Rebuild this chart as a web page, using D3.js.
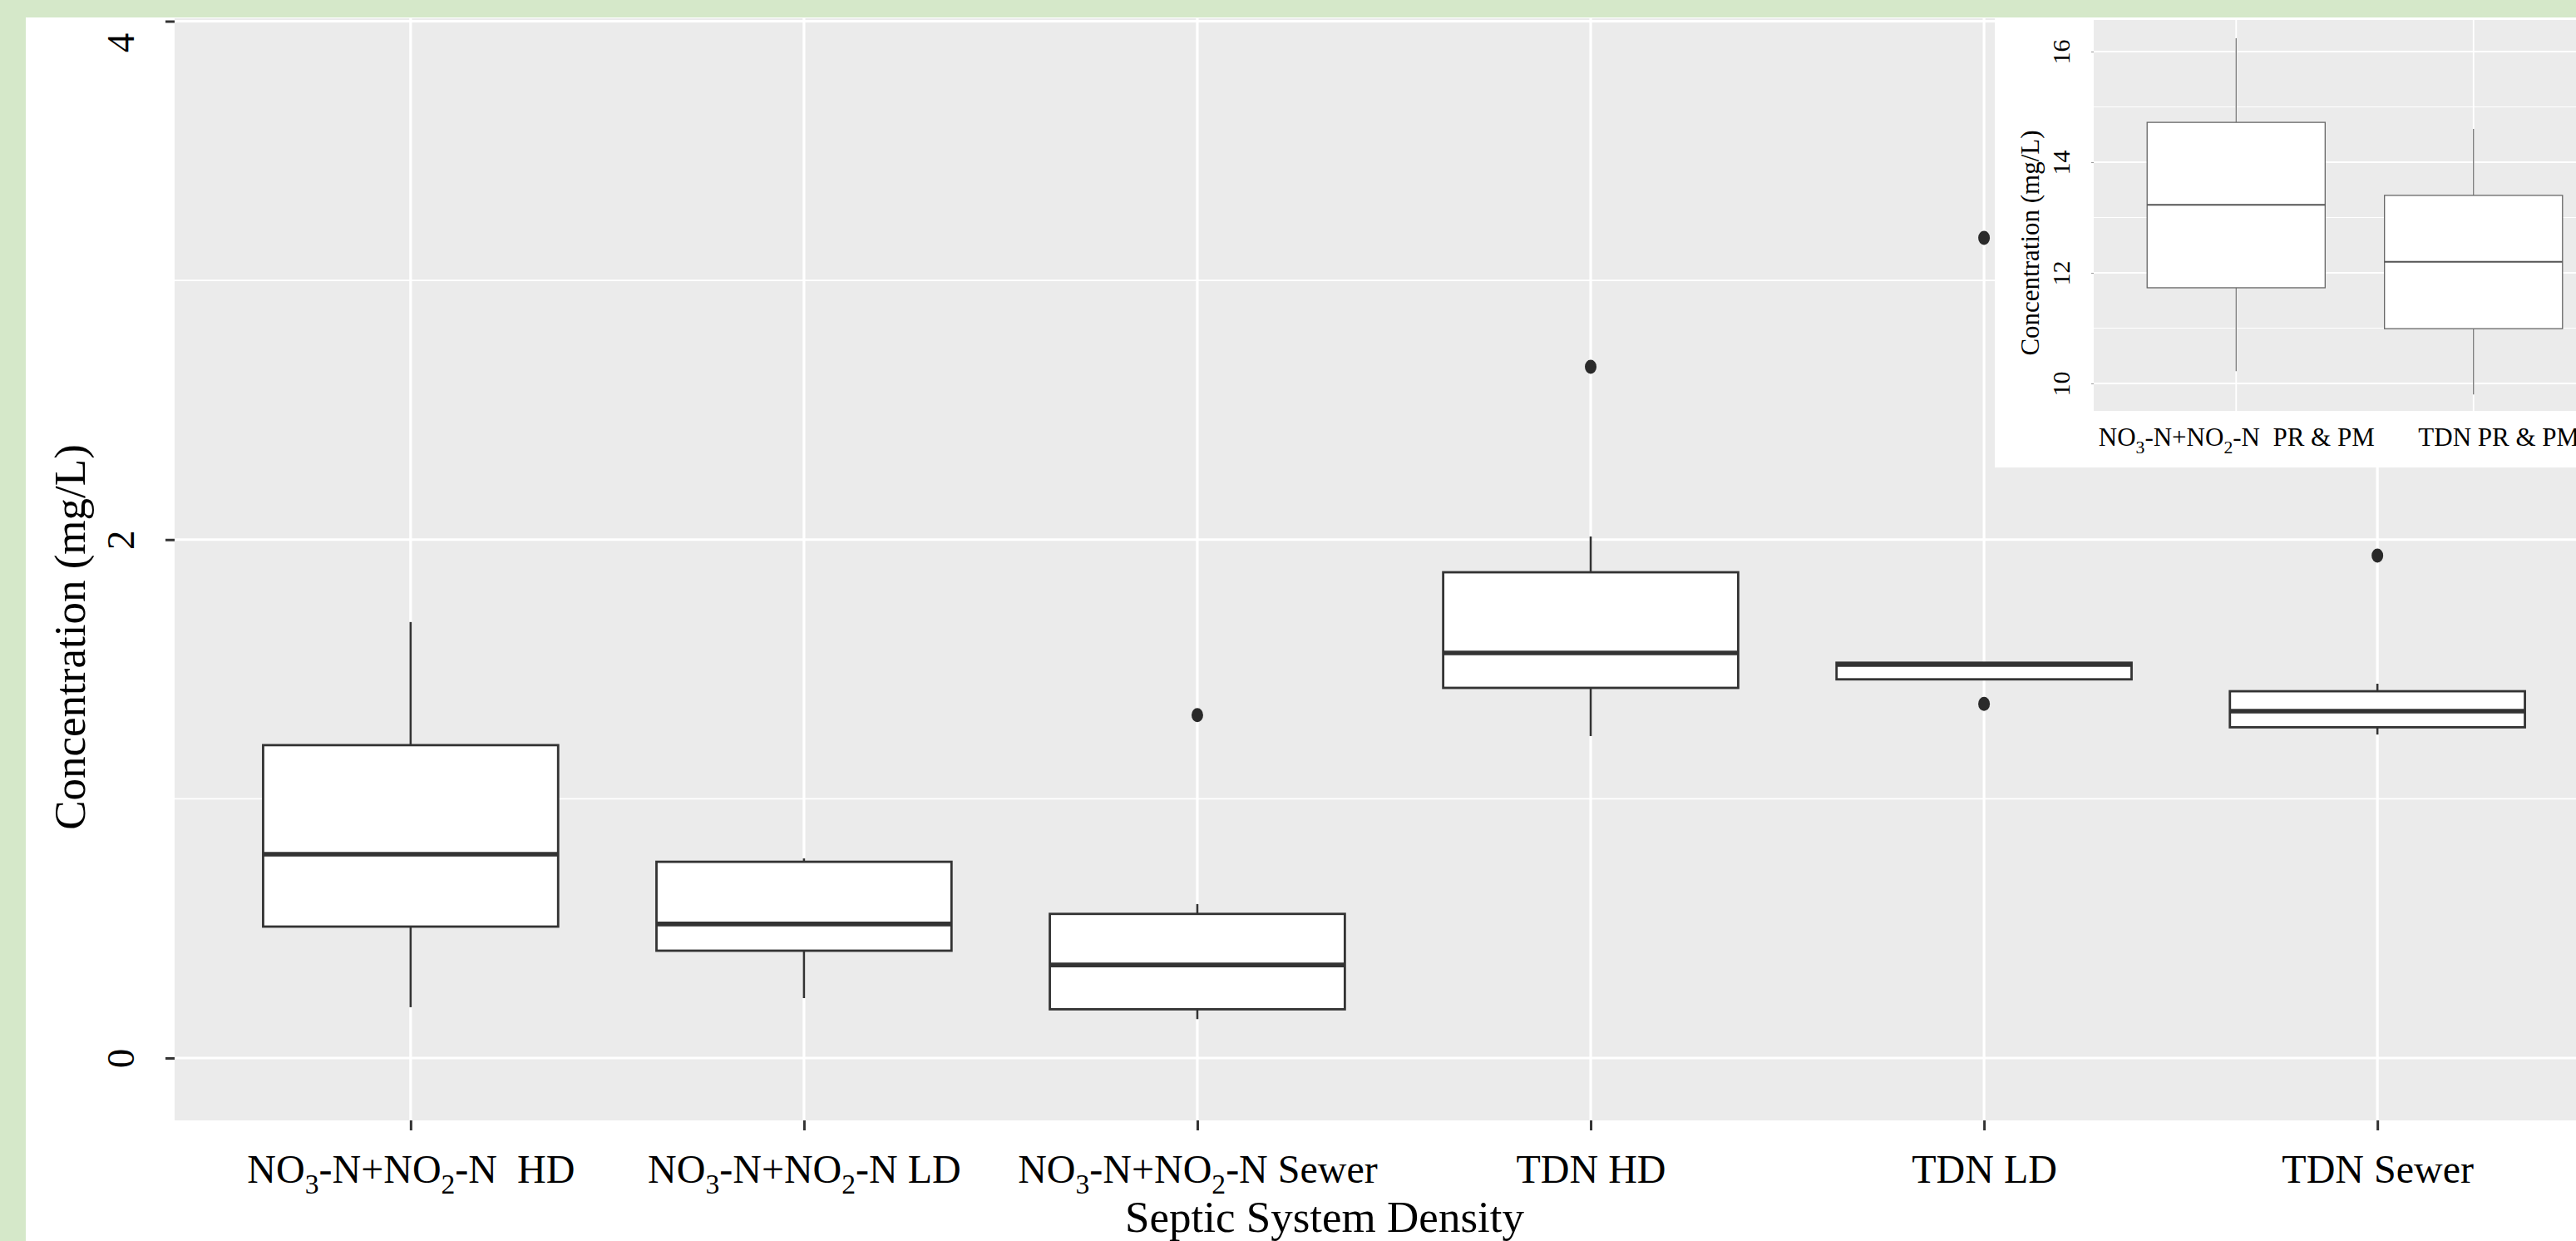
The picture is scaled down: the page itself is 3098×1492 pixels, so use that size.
<!DOCTYPE html>
<html><head><meta charset="utf-8">
<script src="https://cdn.jsdelivr.net/npm/d3@7"></script>
<style>
html,body{margin:0;padding:0;background:#d5e8c9;overflow:hidden;}
svg{display:block;}
text{font-family:"Liberation Serif","Times New Roman",Times,serif;fill:#000;white-space:pre;}
</style></head><body>
<svg id="c" width="3098" height="1492"></svg>
<script>
// ---------- main chart data ----------
const categories = ["NO3-N+NO2-N  HD","NO3-N+NO2-N LD","NO3-N+NO2-N Sewer","TDN HD","TDN LD","TDN Sewer"];
const whiskerLow  = [0.196, 0.231, 0.150, 1.242, 1.461, 1.248];
const q1          = [0.507, 0.414, 0.188, 1.428, 1.461, 1.276];
const median      = [0.786, 0.517, 0.359, 1.563, 1.518, 1.338];
const q3          = [1.207, 0.757, 0.556, 1.874, 1.525, 1.415];
const whiskerHigh = [1.682, 0.770, 0.594, 2.012, 1.525, 1.444];
const outliers    = [[], [], [1.323], [2.667], [3.164, 1.366], [1.938]];
const yTicks = [0, 2, 4];
const yMinorTicks = [1, 3];
const yTitle = "Concentration (mg/L)";
const xTitle = "Septic System Density";

// ---------- inset data ----------
const insetCategories  = ["NO3-N+NO2-N  PR & PM", "TDN PR & PM"];
const insetWhiskerLow  = [10.22, 9.80];
const insetQ1          = [11.73, 10.99];
const insetMedian      = [13.23, 12.20];
const insetQ3          = [14.72, 13.40];
const insetWhiskerHigh = [16.24, 14.60];
const insetYTicks = [10, 12, 14, 16];
const insetYMinorTicks = [11, 13, 15];
const insetYTitle = "Concentration (mg/L)";

const FONT = '"Liberation Serif","Times New Roman",Times,serif';
const svg = d3.select("#c");

function richLabel(sel, fs) {
  sel.each(function(d) {
    const t = d3.select(this);
    t.text(null);
    const parts = d.split(/(\d)/).filter(p => p.length);
    let shifted = false;
    parts.forEach(p => {
      if (/^\d$/.test(p)) {
        t.append("tspan").attr("dy", 0.28 * fs).attr("font-size", 0.7 * fs).text(p);
        shifted = true;
      } else {
        const ts = t.append("tspan").text(p);
        if (shifted) { ts.attr("dy", -0.28 * fs); shifted = false; }
      }
    });
  });
}

// white canvas
svg.append("rect").attr("x", 31).attr("y", 21).attr("width", 3098 - 31).attr("height", 1492 - 21).attr("fill", "#fff");

// ---------- main panel ----------
const P = {l: 210, r: 3143, t: 22, b: 1347};
const x = d3.scalePoint().domain(categories).range([P.l, P.r]).padding(0.6);
const y = d3.scaleLinear().domain([0, 4]).range([1272, 25.5]);
const bw = x.step() * 0.75;

svg.append("rect").attr("x", P.l).attr("y", P.t).attr("width", P.r - P.l).attr("height", P.b - P.t).attr("fill", "#ebebeb");
const grid = svg.append("g");
grid.selectAll(".mn").data(yMinorTicks).join("line")
  .attr("x1", P.l).attr("x2", P.r).attr("y1", d => y(d)).attr("y2", d => y(d))
  .attr("stroke", "#fff").attr("stroke-width", 1.6);
grid.selectAll(".mj").data(yTicks).join("line")
  .attr("x1", P.l).attr("x2", P.r).attr("y1", d => y(d)).attr("y2", d => y(d))
  .attr("stroke", "#fff").attr("stroke-width", 3.2);
grid.selectAll(".vx").data(categories).join("line")
  .attr("x1", d => x(d)).attr("x2", d => x(d)).attr("y1", P.t).attr("y2", P.b)
  .attr("stroke", "#fff").attr("stroke-width", 3.2);

const boxes = svg.append("g").selectAll("g").data(categories).join("g");
boxes.append("line").attr("x1", d => x(d)).attr("x2", d => x(d))
  .attr("y1", (d, i) => y(q3[i])).attr("y2", (d, i) => y(whiskerHigh[i]))
  .attr("stroke", "#333").attr("stroke-width", 2.6);
boxes.append("line").attr("x1", d => x(d)).attr("x2", d => x(d))
  .attr("y1", (d, i) => y(q1[i])).attr("y2", (d, i) => y(whiskerLow[i]))
  .attr("stroke", "#333").attr("stroke-width", 2.6);
boxes.append("rect").attr("x", d => x(d) - bw / 2).attr("width", bw)
  .attr("y", (d, i) => y(q3[i])).attr("height", (d, i) => y(q1[i]) - y(q3[i]))
  .attr("fill", "#fff").attr("stroke", "#333").attr("stroke-width", 2.8);
boxes.append("line").attr("x1", d => x(d) - bw / 2).attr("x2", d => x(d) + bw / 2)
  .attr("y1", (d, i) => y(median[i])).attr("y2", (d, i) => y(median[i]))
  .attr("stroke", "#333").attr("stroke-width", 5.6);
boxes.each(function(d, i) {
  d3.select(this).selectAll("ellipse").data(outliers[i]).join("ellipse")
    .attr("cx", x(d)).attr("cy", v => y(v)).attr("rx", 7).attr("ry", 8.5).attr("fill", "#2a2a2a");
});

// axes
const yAx = svg.append("g").attr("transform", `translate(${P.l},0)`)
  .call(d3.axisLeft(y).tickValues(yTicks).tickSize(11).tickFormat(d3.format("d")))
  .attr("font-family", FONT);
yAx.select(".domain").remove();
yAx.selectAll(".tick line").attr("stroke", "#333").attr("stroke-width", 3);
yAx.selectAll(".tick text")
  .attr("x", null).attr("dy", null).attr("text-anchor", "middle")
  .attr("font-size", 47).attr("fill", "#000").attr("font-family", FONT)
  .attr("transform", d => `translate(-49,${Math.max(y(d), 51) - y(d)}) rotate(-90)`);

const xAx = svg.append("g").attr("transform", `translate(0,${P.b})`)
  .call(d3.axisBottom(x).tickSize(12))
  .attr("font-family", FONT);
xAx.select(".domain").remove();
xAx.selectAll(".tick line").attr("stroke", "#333").attr("stroke-width", 3);
xAx.selectAll(".tick text").attr("y", 75).attr("dy", null).attr("font-size", 48).attr("fill", "#000")
  .attr("font-family", FONT)
  .call(richLabel, 48);

svg.append("text").attr("transform", "translate(102,766) rotate(-90)").attr("font-family", FONT)
  .attr("text-anchor", "middle").attr("font-size", 53).text(yTitle);
svg.append("text").attr("x", 1593).attr("y", 1481).attr("font-family", FONT)
  .attr("text-anchor", "middle").attr("font-size", 53).text(xTitle);

// ---------- inset ----------
const I = {l: 2518, r: 3146, t: 24, b: 494};
svg.append("rect").attr("x", 2399).attr("y", 21).attr("width", 3098 - 2399).attr("height", 562 - 21).attr("fill", "#fff");
const xi = d3.scalePoint().domain(insetCategories).range([I.l, I.r]).padding(0.6);
const yi = d3.scaleLinear().domain([10, 16]).range([461, 62]);
const bwi = xi.step() * 0.75;

svg.append("rect").attr("x", I.l).attr("y", I.t).attr("width", I.r - I.l).attr("height", I.b - I.t).attr("fill", "#ebebeb");
const gi = svg.append("g");
gi.selectAll(".mn").data(insetYMinorTicks).join("line")
  .attr("x1", I.l).attr("x2", I.r).attr("y1", d => yi(d)).attr("y2", d => yi(d))
  .attr("stroke", "#fff").attr("stroke-width", 1);
gi.selectAll(".mj").data(insetYTicks).join("line")
  .attr("x1", I.l).attr("x2", I.r).attr("y1", d => yi(d)).attr("y2", d => yi(d))
  .attr("stroke", "#fff").attr("stroke-width", 1.8);
gi.selectAll(".vx").data(insetCategories).join("line")
  .attr("x1", d => xi(d)).attr("x2", d => xi(d)).attr("y1", I.t).attr("y2", I.b)
  .attr("stroke", "#fff").attr("stroke-width", 1.8);

const ib = svg.append("g").selectAll("g").data(insetCategories).join("g");
ib.append("line").attr("x1", d => xi(d)).attr("x2", d => xi(d))
  .attr("y1", (d, i) => yi(insetQ3[i])).attr("y2", (d, i) => yi(insetWhiskerHigh[i]))
  .attr("stroke", "#777").attr("stroke-width", 1.3);
ib.append("line").attr("x1", d => xi(d)).attr("x2", d => xi(d))
  .attr("y1", (d, i) => yi(insetQ1[i])).attr("y2", (d, i) => yi(insetWhiskerLow[i]))
  .attr("stroke", "#777").attr("stroke-width", 1.3);
ib.append("rect").attr("x", d => xi(d) - bwi / 2).attr("width", bwi)
  .attr("y", (d, i) => yi(insetQ3[i])).attr("height", (d, i) => yi(insetQ1[i]) - yi(insetQ3[i]))
  .attr("fill", "#fff").attr("stroke", "#666").attr("stroke-width", 1.3);
ib.append("line").attr("x1", d => xi(d) - bwi / 2).attr("x2", d => xi(d) + bwi / 2)
  .attr("y1", (d, i) => yi(insetMedian[i])).attr("y2", (d, i) => yi(insetMedian[i]))
  .attr("stroke", "#555").attr("stroke-width", 2);

const yiAx = svg.append("g").attr("transform", `translate(${I.l},0)`)
  .call(d3.axisLeft(yi).tickValues(insetYTicks).tickSize(3).tickFormat(d3.format("d")))
  .attr("font-family", FONT);
yiAx.select(".domain").remove();
yiAx.selectAll(".tick line").attr("stroke", "#999").attr("stroke-width", 1);
yiAx.selectAll(".tick text")
  .attr("x", null).attr("dy", null).attr("text-anchor", "middle")
  .attr("font-size", 30).attr("fill", "#000").attr("font-family", FONT)
  .attr("transform", "translate(-29,0) rotate(-90)");

const xiAx = svg.append("g").attr("transform", `translate(0,${I.b})`)
  .call(d3.axisBottom(xi).tickSize(0))
  .attr("font-family", FONT);
xiAx.select(".domain").remove();
xiAx.selectAll(".tick text").attr("y", 42).attr("dy", null).attr("font-size", 31).attr("fill", "#000")
  .attr("font-family", FONT)
  .attr("dx", (d, i) => i === 1 ? 30 : 0)
  .call(richLabel, 31);

svg.append("text").attr("transform", "translate(2452,292) rotate(-90)").attr("font-family", FONT)
  .attr("text-anchor", "middle").attr("font-size", 31).text(insetYTitle);
</script>
</body></html>
